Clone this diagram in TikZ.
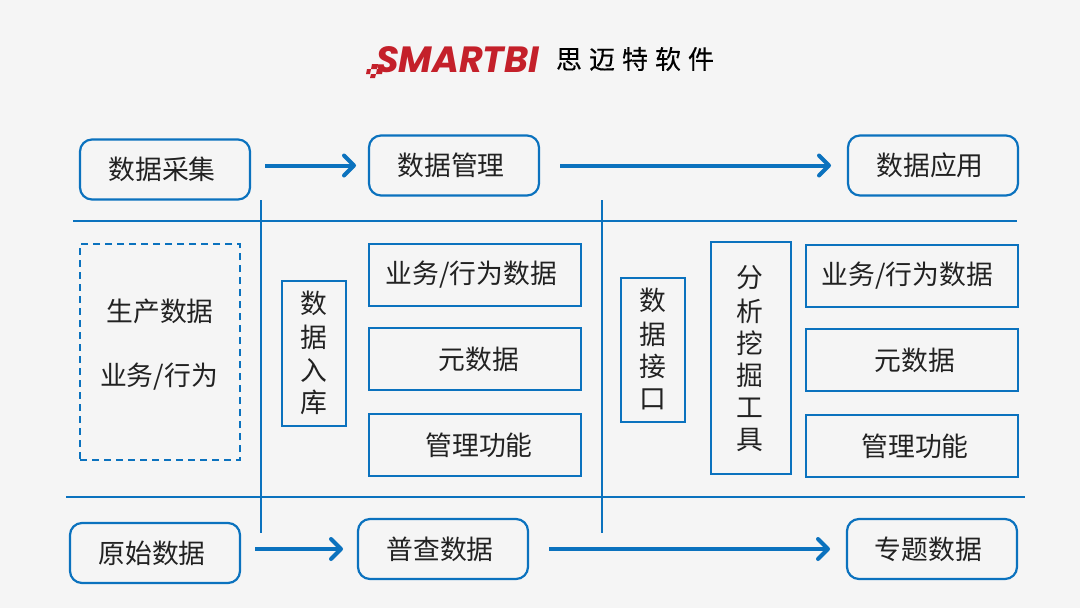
\documentclass[tikz,border=0pt]{standalone}
\usepackage{fontspec}
\setmainfont{Noto Sans CJK SC}[Scale=1]
\newfontfamily\logofont{Poppins}
\newfontfamily\companyfont{Noto Sans CJK SC}[FakeBold=0.25]
\usetikzlibrary{arrows.meta}
\definecolor{pagebg}{HTML}{F5F5F5}
\definecolor{frameblue}{HTML}{0B72BE}
\definecolor{logored}{HTML}{C4202A}
\definecolor{inkdark}{HTML}{222222}
\newcommand{\txt}{\fontsize{26.8}{30}\selectfont}
% moves a box caption sideways by #1 from the box centre
\newcommand{\nudge}[2]{\hspace*{\dimexpr 0pt-#1-#1\relax}\raisebox{-1pt}{#2}}
\newcommand{\nudgeL}[2]{\raisebox{-1pt}{#2}\hspace*{\dimexpr #1+#1\relax}}
\tikzset{
  x=1pt,y=-1pt,
  every node/.style={text=inkdark,font=\txt,inner sep=0pt,outer sep=0pt},
  roundbox/.style={draw=frameblue,line width=2.2pt,rounded corners=12pt,minimum width=170pt,minimum height=60pt},
  flatbox/.style={draw=frameblue,line width=2pt,minimum width=212pt,minimum height=62pt},
  tallbox/.style={draw=frameblue,line width=2pt,align=center},
  rule/.style={draw=frameblue,line width=1.6pt},
  flow/.style={draw=frameblue,line width=4pt,-{Straight Barb[length=10pt,width=20pt,line width=4pt,round]}},
}
\begin{document}
\begin{tikzpicture}
\useasboundingbox[fill=pagebg] (0,0) rectangle (1080,608);

% brand mark
\fill[logored] (372,64) -- (378,64) -- (377,69) -- (371,69) -- cycle
  (367,69) -- (371,69) -- (370,74) -- (366,74) -- cycle
  (377,69) -- (383,69) -- (382,74) -- (376,74) -- cycle
  (371,74) -- (376,74) -- (375,78) -- (370,78) -- cycle;
\node[anchor=west] (brand) at (376,60) {\logofont\fontsize{36.5}{37}\selectfont\bfseries\itshape\textcolor{logored}{SMARTBI}};
\node[anchor=west] (company) at (556,59) {\companyfont\fontsize{26}{28}\selectfont\color{black}思\hspace{7pt}迈\hspace{7pt}特\hspace{7pt}软\hspace{7pt}件};

% top row
\node[roundbox] (collect) at (165,169.5) {\nudgeL{3pt}{数据采集}};
\node[roundbox] (manage) at (454,165.5) {\nudgeL{3pt}{数据管理}};
\node[roundbox] (apply) at (933,165.5) {\nudgeL{3pt}{数据应用}};

% bottom row
\node[roundbox] (raw) at (155,553) {\nudgeL{3pt}{原始数据}};
\node[roundbox] (census) at (443,549) {\nudgeL{3pt}{普查数据}};
\node[roundbox] (topic) at (932,549) {\nudgeL{3.5pt}{专题数据}};

% separators
\coordinate (h1a) at (73,221);   \coordinate (h1b) at (1017,221);
\coordinate (h2a) at (66,497);   \coordinate (h2b) at (1025,497);
\coordinate (v1a) at (261,200);  \coordinate (v1b) at (261,533);
\coordinate (v2a) at (602,200);  \coordinate (v2b) at (602,533);
\draw[rule] (h1a) -- (h1b);
\draw[rule] (h2a) -- (h2b);
\draw[rule] (v1a) -- (v1b);
\draw[rule] (v2a) -- (v2b);

% flow arrows, offset from the box edges
\draw[flow] ([xshift=15pt,yshift=4pt]collect.east) -- ([xshift=-13pt]manage.west);
\draw[flow] ([xshift=21pt]manage.east) -- ([xshift=-17pt]apply.west);
\draw[flow] ([xshift=15pt,yshift=4pt]raw.east) -- ([xshift=-15pt]census.west);
\draw[flow] ([xshift=21pt]census.east) -- ([xshift=-17pt]topic.west);

% production data
\node[draw=frameblue,line width=2pt,dash pattern=on 7pt off 5pt,minimum width=160pt,minimum height=216pt] (prod) at (160,352) {};
\node (prodA) at (160,311) {生产数据};
\node (prodB) at (159,377) {业务/行为};

% ingestion column
\node[tallbox,minimum width=64pt,minimum height=145pt] (ingest) at (314,353) {};
\node (i1) at (314,303) {数};
\node (i2) at (314,337) {据};
\node (i3) at (314,370) {入};
\node (i4) at (314,402) {库};

% managed data stack
\node[flatbox] (m1) at (475,275) {\nudgeL{3.5pt}{业务/行为数据}};
\node[flatbox] (m2) at (475,359) {\nudge{-4pt}{元数据}};
\node[flatbox] (m3) at (475,445) {\nudge{-4pt}{管理功能}};

% interface column
\node[tallbox,minimum width=64pt,minimum height=144pt] (api) at (653,350) {};
\node (a1) at (653,300) {数};
\node (a2) at (653,334) {据};
\node (a3) at (653,366) {接};
\node (a4) at (653,399) {口};

% analysis tools column
\node[tallbox,minimum width=80pt,minimum height=232pt] (tools) at (751,358) {};
\node (t1) at (750,278) {分};
\node (t2) at (750,311) {析};
\node (t3) at (750,343) {挖};
\node (t4) at (750,375) {掘};
\node (t5) at (750,408) {工};
\node (t6) at (750,440) {具};

% application data stack
\node[flatbox] (d1) at (911.5,276) {\nudgeL{4pt}{业务/行为数据}};
\node[flatbox] (d2) at (911.5,360) {\nudge{-3.5pt}{元数据}};
\node[flatbox] (d3) at (911.5,446) {\nudge{-3.5pt}{管理功能}};
\end{tikzpicture}
\end{document}
